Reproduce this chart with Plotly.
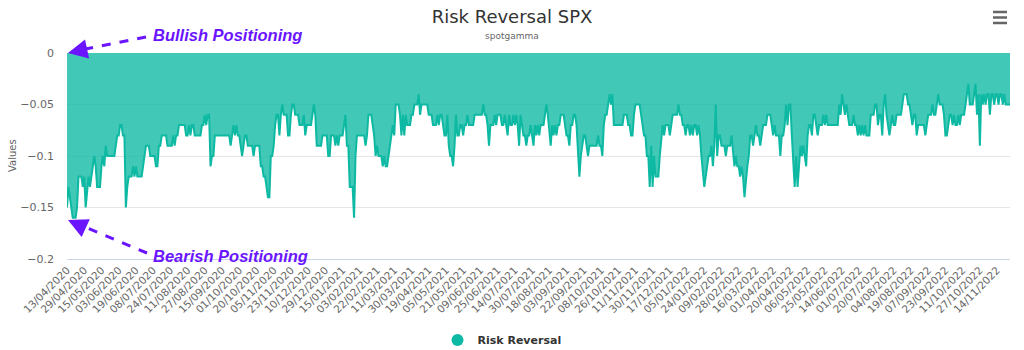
import plotly.graph_objects as go

# Risk reversal values (one per trading day, starting 13/04/2020)
risk_reversal = [
    -0.15,-0.13,-0.14,-0.15,-0.16,-0.16,-0.16,-0.15,-0.12,-0.12,
    -0.12,-0.13,-0.12,-0.15,-0.13,-0.12,-0.13,-0.12,-0.11,-0.10,
    -0.11,-0.13,-0.13,-0.13,-0.11,-0.10,-0.11,-0.09,-0.10,-0.10,
    -0.10,-0.10,-0.10,-0.10,-0.09,-0.08,-0.08,-0.07,-0.07,-0.08,
    -0.08,-0.15,-0.13,-0.12,-0.12,-0.12,-0.11,-0.12,-0.11,-0.12,
    -0.12,-0.12,-0.12,-0.11,-0.10,-0.09,-0.09,-0.09,-0.10,-0.10,
    -0.10,-0.10,-0.11,-0.11,-0.09,-0.09,-0.08,-0.08,-0.08,-0.08,
    -0.09,-0.09,-0.09,-0.09,-0.08,-0.09,-0.08,-0.08,-0.07,-0.07,
    -0.07,-0.07,-0.07,-0.08,-0.08,-0.07,-0.08,-0.07,-0.07,-0.08,
    -0.08,-0.08,-0.08,-0.08,-0.07,-0.07,-0.06,-0.07,-0.06,-0.06,
    -0.11,-0.10,-0.10,-0.08,-0.08,-0.08,-0.08,-0.08,-0.08,-0.08,
    -0.08,-0.08,-0.08,-0.08,-0.09,-0.08,-0.07,-0.08,-0.07,-0.08,
    -0.08,-0.09,-0.10,-0.09,-0.08,-0.08,-0.09,-0.09,-0.09,-0.09,
    -0.10,-0.09,-0.09,-0.09,-0.09,-0.11,-0.11,-0.12,-0.12,-0.13,
    -0.14,-0.14,-0.10,-0.10,-0.09,-0.07,-0.06,-0.06,-0.08,-0.06,
    -0.05,-0.06,-0.06,-0.06,-0.08,-0.08,-0.06,-0.05,-0.05,-0.06,
    -0.06,-0.06,-0.07,-0.07,-0.07,-0.06,-0.08,-0.07,-0.07,-0.07,
    -0.07,-0.06,-0.05,-0.06,-0.09,-0.09,-0.09,-0.09,-0.08,-0.08,
    -0.08,-0.08,-0.10,-0.10,-0.08,-0.08,-0.08,-0.09,-0.08,-0.09,
    -0.08,-0.08,-0.08,-0.07,-0.06,-0.09,-0.09,-0.13,-0.13,-0.13,
    -0.16,-0.10,-0.08,-0.08,-0.08,-0.08,-0.08,-0.08,-0.09,-0.08,
    -0.06,-0.06,-0.06,-0.07,-0.08,-0.10,-0.09,-0.10,-0.10,-0.10,
    -0.11,-0.10,-0.11,-0.11,-0.10,-0.09,-0.08,-0.07,-0.08,-0.05,
    -0.05,-0.05,-0.06,-0.08,-0.06,-0.08,-0.06,-0.07,-0.07,-0.07,
    -0.06,-0.06,-0.05,-0.05,-0.05,-0.04,-0.06,-0.05,-0.05,-0.05,
    -0.05,-0.05,-0.06,-0.06,-0.06,-0.07,-0.07,-0.07,-0.06,-0.07,
    -0.06,-0.06,-0.07,-0.08,-0.08,-0.06,-0.09,-0.10,-0.10,-0.11,
    -0.09,-0.06,-0.08,-0.08,-0.07,-0.07,-0.08,-0.07,-0.07,-0.06,
    -0.07,-0.07,-0.07,-0.07,-0.06,-0.06,-0.06,-0.06,-0.06,-0.06,
    -0.05,-0.06,-0.06,-0.07,-0.09,-0.07,-0.07,-0.07,-0.06,-0.07,
    -0.06,-0.06,-0.06,-0.07,-0.07,-0.06,-0.07,-0.08,-0.06,-0.07,
    -0.07,-0.06,-0.07,-0.06,-0.07,-0.09,-0.06,-0.07,-0.08,-0.08,
    -0.09,-0.08,-0.08,-0.07,-0.08,-0.09,-0.07,-0.08,-0.07,-0.08,
    -0.07,-0.07,-0.07,-0.06,-0.05,-0.06,-0.08,-0.09,-0.07,-0.08,
    -0.07,-0.08,-0.07,-0.07,-0.06,-0.06,-0.06,-0.07,-0.08,-0.08,
    -0.09,-0.07,-0.07,-0.06,-0.06,-0.07,-0.10,-0.12,-0.10,-0.09,
    -0.08,-0.08,-0.09,-0.10,-0.09,-0.09,-0.09,-0.09,-0.09,-0.09,
    -0.08,-0.09,-0.09,-0.10,-0.07,-0.06,-0.06,-0.05,-0.04,-0.05,
    -0.04,-0.07,-0.07,-0.07,-0.07,-0.07,-0.07,-0.07,-0.06,-0.06,
    -0.06,-0.07,-0.07,-0.08,-0.08,-0.06,-0.05,-0.05,-0.05,-0.05,
    -0.06,-0.07,-0.08,-0.08,-0.10,-0.10,-0.13,-0.09,-0.13,-0.10,
    -0.12,-0.12,-0.12,-0.10,-0.08,-0.07,-0.08,-0.07,-0.07,-0.07,
    -0.08,-0.07,-0.06,-0.06,-0.06,-0.06,-0.05,-0.06,-0.06,-0.07,
    -0.07,-0.08,-0.07,-0.07,-0.08,-0.07,-0.08,-0.07,-0.07,-0.08,
    -0.07,-0.08,-0.10,-0.12,-0.13,-0.12,-0.11,-0.10,-0.10,-0.09,
    -0.11,-0.09,-0.05,-0.10,-0.08,-0.08,-0.09,-0.09,-0.09,-0.10,
    -0.09,-0.09,-0.09,-0.08,-0.10,-0.11,-0.10,-0.11,-0.11,-0.12,
    -0.11,-0.12,-0.14,-0.12,-0.11,-0.10,-0.08,-0.08,-0.09,-0.08,
    -0.07,-0.08,-0.08,-0.09,-0.08,-0.07,-0.07,-0.07,-0.06,-0.06,
    -0.06,-0.07,-0.08,-0.07,-0.08,-0.08,-0.08,-0.10,-0.08,-0.08,
    -0.07,-0.05,-0.07,-0.05,-0.05,-0.08,-0.10,-0.13,-0.10,-0.13,
    -0.11,-0.09,-0.10,-0.09,-0.10,-0.11,-0.08,-0.07,-0.07,-0.08,
    -0.06,-0.06,-0.07,-0.08,-0.07,-0.07,-0.07,-0.06,-0.07,-0.06,
    -0.07,-0.07,-0.07,-0.07,-0.07,-0.07,-0.07,-0.07,-0.05,-0.06,
    -0.04,-0.05,-0.06,-0.05,-0.06,-0.07,-0.07,-0.07,-0.06,-0.07,
    -0.07,-0.08,-0.07,-0.08,-0.07,-0.08,-0.07,-0.08,-0.08,-0.08,
    -0.06,-0.06,-0.06,-0.05,-0.05,-0.07,-0.06,-0.06,-0.08,-0.05,
    -0.04,-0.06,-0.07,-0.08,-0.07,-0.06,-0.07,-0.07,-0.06,-0.06,
    -0.06,-0.06,-0.05,-0.04,-0.04,-0.04,-0.05,-0.05,-0.06,-0.07,
    -0.06,-0.06,-0.08,-0.07,-0.07,-0.07,-0.07,-0.07,-0.08,-0.07,
    -0.06,-0.06,-0.06,-0.05,-0.06,-0.06,-0.05,-0.04,-0.05,-0.05,
    -0.05,-0.06,-0.08,-0.08,-0.07,-0.06,-0.06,-0.07,-0.06,-0.07,
    -0.07,-0.06,-0.07,-0.06,-0.06,-0.06,-0.05,-0.04,-0.03,-0.05,
    -0.05,-0.05,-0.04,-0.03,-0.06,-0.04,-0.09,-0.04,-0.05,-0.04,
    -0.05,-0.04,-0.04,-0.06,-0.04,-0.04,-0.05,-0.04,-0.04,-0.05,
    -0.04,-0.04,-0.05,-0.04,-0.05,-0.05,-0.05,-0.05,
]

# x-axis tick labels (one every 12 trading days)
tick_labels = [
    "13/04/2020","29/04/2020","15/05/2020","03/06/2020","19/06/2020","08/07/2020",
    "24/07/2020","11/08/2020","27/08/2020","15/09/2020","01/10/2020","20/10/2020",
    "05/11/2020","23/11/2020","10/12/2020","29/12/2020","15/01/2021","03/02/2021",
    "22/02/2021","11/03/2021","30/03/2021","19/04/2021","05/05/2021","21/05/2021",
    "09/06/2021","25/06/2021","14/07/2021","30/07/2021","18/08/2021","03/09/2021",
    "22/09/2021","08/10/2021","26/10/2021","11/11/2021","30/11/2021","17/12/2021",
    "05/01/2022","24/01/2022","09/02/2022","28/02/2022","16/03/2022","01/04/2022",
    "20/04/2022","06/05/2022","25/05/2022","14/06/2022","01/07/2022","20/07/2022",
    "04/08/2022","19/08/2022","07/09/2022","23/09/2022","11/10/2022","27/10/2022",
    "14/11/2022",
]
tick_step = 12
y_ticks = [0, -0.05, -0.1, -0.15, -0.2]
y_tick_labels = ["0", "−0.05", "−0.1", "−0.15", "−0.2"]

x_idx = list(range(len(risk_reversal)))
tick_vals = [i * tick_step for i in range(len(tick_labels))]

LINE = "#0db9a2"
FILL = "rgba(13,185,162,0.78)"
PURPLE = "#6a14ff"
FONT = "DejaVu Sans"

fig = go.Figure()
fig.add_trace(go.Scatter(
    x=x_idx, y=risk_reversal, mode="lines", fill="tozeroy",
    line=dict(color=LINE, width=2), fillcolor=FILL,
    name="Risk Reversal", showlegend=False,
))
# legend entry with a circle symbol
fig.add_trace(go.Scatter(
    x=[None], y=[None], mode="markers",
    marker=dict(color=LINE, size=12, symbol="circle"),
    name="<b>Risk Reversal</b>", showlegend=True,
))

L, R, T, B = 67, 14, 53, 91
W, H = 1024, 350
pw, ph = W - L - R, H - T - B

def px(xp):
    return (xp - L) / pw

def py(yp):
    return (H - B - yp) / ph

shapes = [
    # dashed arrow shafts
    dict(type="line", xref="paper", yref="paper",
         x0=px(146), y0=py(37), x1=px(80), y1=py(50),
         line=dict(color=PURPLE, width=3, dash="dash")),
    dict(type="line", xref="paper", yref="paper",
         x0=px(147), y0=py(253), x1=px(80), y1=py(225),
         line=dict(color=PURPLE, width=3, dash="dash")),
]
# hamburger menu icon
for yy in (12, 17.5, 23):
    shapes.append(dict(type="line", xref="paper", yref="paper",
                       x0=px(993), x1=px(1007), y0=py(yy), y1=py(yy),
                       line=dict(color="#666666", width=2.5)))

annotations = [
    dict(text="spotgamma", xref="paper", yref="paper", x=px(512),
         y=py(36), showarrow=False, font=dict(family=FONT, size=9, color="#666666"),
         xanchor="center", yanchor="middle"),
    dict(text="<b><i>Bullish Positioning</i></b>", xref="paper", yref="paper",
         x=px(151), y=py(35), showarrow=False, xanchor="left", yanchor="middle",
         font=dict(family="Liberation Sans", size=16.5, color=PURPLE)),
    dict(text="<b><i>Bearish Positioning</i></b>", xref="paper", yref="paper",
         x=px(151), y=py(256), showarrow=False, xanchor="left", yanchor="middle",
         font=dict(family="Liberation Sans", size=16.5, color=PURPLE)),
    # arrowheads
    dict(text="", xref="paper", yref="paper", x=px(68), y=py(53),
         ax=14, ay=-3, showarrow=True, arrowhead=2, arrowsize=1.3,
         arrowwidth=3, arrowcolor=PURPLE, standoff=0),
    dict(text="", xref="paper", yref="paper", x=px(68), y=py(220),
         ax=13, ay=6, showarrow=True, arrowhead=2, arrowsize=1.3,
         arrowwidth=3, arrowcolor=PURPLE, standoff=0),
    # y-axis title
    dict(text="Values", xref="paper", yref="paper", x=px(12), y=py(156),
         showarrow=False, textangle=-90, xanchor="center", yanchor="middle",
         font=dict(family=FONT, size=10, color="#666666")),
]

fig.update_layout(
    width=W, height=H,
    margin=dict(l=L, r=R, t=T, b=B, autoexpand=False),
    paper_bgcolor="white", plot_bgcolor="white",
    font=dict(family=FONT, color="#666666", size=11),
    title=dict(text="Risk Reversal SPX", x=px(512), xref="paper", xanchor="center",
               y=1 - 17 / H, yanchor="middle",
               font=dict(family=FONT, size=18, color="#333333")),
    xaxis=dict(range=[0, len(risk_reversal) - 1], tickmode="array",
               tickvals=tick_vals, ticktext=tick_labels, tickangle=-45,
               automargin=False,
               showgrid=False, zeroline=False, showline=True,
               linecolor="#ccd6eb", linewidth=1,
               tickfont=dict(family=FONT, size=10.5, color="#666666")),
    yaxis=dict(range=[-0.2, 0], tickmode="array", tickvals=y_ticks,
               ticktext=y_tick_labels, automargin=False,
               showgrid=True, gridcolor="#e6e6e6", zeroline=False,
               ticklabelstandoff=12,
               tickfont=dict(family=FONT, size=11, color="#666666")),
    legend=dict(orientation="h", x=px(502), xanchor="center",
                y=py(340), yanchor="middle", itemwidth=30,
                font=dict(family=FONT, size=11, color="#333333")),
    shapes=shapes, annotations=annotations,
    showlegend=True,
)

fig.write_html("out.html")
